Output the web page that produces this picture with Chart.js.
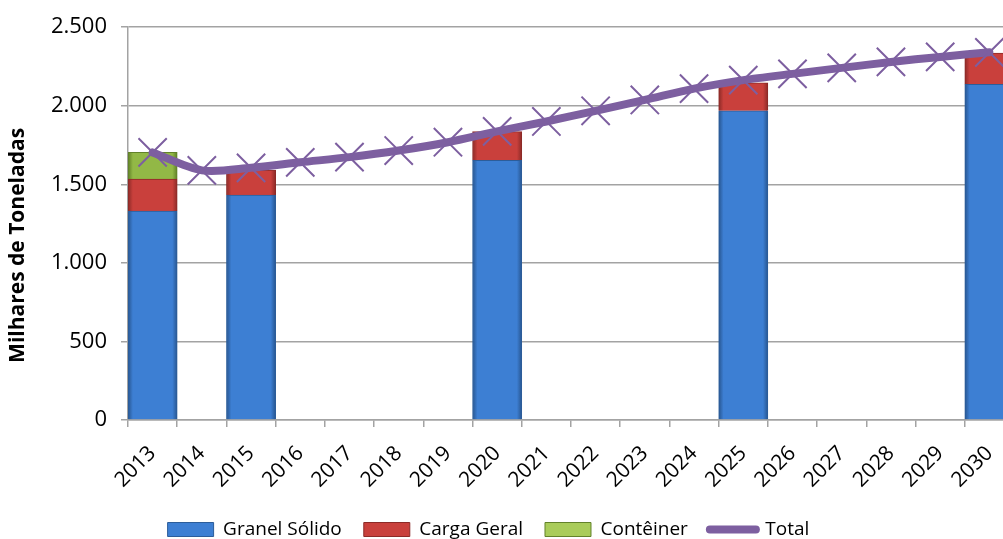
<!DOCTYPE html>
<html lang="pt-BR">
<head>
<meta charset="utf-8">
<title>Movimentação projetada</title>
<script src="https://cdn.jsdelivr.net/npm/chart.js@4.4.1/dist/chart.umd.min.js"></script>
<style>
    html, body { margin: 0; padding: 0; background: #fff; overflow: hidden; }
    #wrap { position: relative; width: 1036px; height: 539px; }
</style>
</head>
<body>
<div id="wrap"><canvas id="chart"></canvas></div>
<script>
// --- Data ---
const years = ['2013', '2014', '2015', '2016', '2017', '2018', '2019', '2020', '2021',
    '2022', '2023', '2024', '2025', '2026', '2027', '2028', '2029', '2030'];
const granelSolido = [1330, null, 1431, null, null, null, null, 1652, null,
    null, null, null, 1968, null, null, null, null, 2136];
const cargaGeral = [204, null, 160, null, null, null, null, 183, null,
    null, null, null, 178, null, null, null, null, 200];
const conteiner = [169, null, null, null, null, null, null, null, null,
    null, null, null, null, null, null, null, null, null];
const total = [1703, 1589, 1605, 1640, 1673, 1715, 1768, 1837, 1900,
    1968, 2037, 2109, 2163, 2203, 2241, 2279, 2311, 2340];
const yTicks = [0, 500, 1000, 1500, 2000, 2500];

const FONT = "'Open Sans', 'DejaVu Sans', sans-serif";
const PURPLE = '#7d5fa0';
const GRID = '#a3a3a3';
const PLOT_BOTTOM = 420;

// bar fill with darker side edges, a rough take on the excel bevel
function bevel(base, dark) {
    return function(ctx) {
        const chart = ctx.chart;
        const x = chart.scales && chart.scales.x;
        if (!x || ctx.type !== 'data') return base;
        const c = x.getPixelForValue(ctx.dataIndex);
        const half = (x.getPixelForValue(1) - x.getPixelForValue(0)) / 2;
        const g = chart.ctx.createLinearGradient(c - half, 0, c + half, 0);
        g.addColorStop(0, dark);
        g.addColorStop(0.1, base);
        g.addColorStop(0.9, base);
        g.addColorStop(1, dark);
        return g;
    };
}

function thousands(v) {
    return String(v).replace(/\B(?=(\d{3})+(?!\d))/g, '.');
}

// puts the legend row where excel had it (partly cut at the bottom edge)
const legendNudge = {
    id: 'legendNudge',
    afterLayout(chart) {
        const lg = chart.legend;
        if (!lg) return;
        const h = lg.bottom - lg.top;
        const dx = -29;
        lg.left += dx; lg.right += dx;
        lg.top = 498; lg.bottom = 498 + h;
    }
};

const ctx = document.getElementById('chart').getContext('2d');
new Chart(ctx, {
    type: 'bar',
    data: {
        labels: years,
        datasets: [
            {
                label: 'Granel Sólido', data: granelSolido, stack: 'carga', order: 1,
                backgroundColor: bevel('#3d7fd3', '#27558f'), borderColor: '#2c5d9a', borderWidth: 1,
                categoryPercentage: 1, barPercentage: 1
            },
            {
                label: 'Carga Geral', data: cargaGeral, stack: 'carga', order: 1,
                backgroundColor: bevel('#c9403c', '#8c2a27'), borderColor: '#8c2a27', borderWidth: 1,
                categoryPercentage: 1, barPercentage: 1
            },
            {
                label: 'Contêiner', data: conteiner, stack: 'carga', order: 1,
                backgroundColor: bevel('#92b846', '#5f7f26'), borderColor: '#62822a', borderWidth: 1,
                categoryPercentage: 1, barPercentage: 1
            },
            {
                type: 'line', label: 'Total', data: total, stack: 'total', order: 0,
                borderColor: PURPLE, backgroundColor: PURPLE, borderWidth: 8,
                tension: 0.3, borderCapStyle: 'round',
                pointStyle: 'crossRot', pointRadius: 20, pointHoverRadius: 20,
                pointBorderWidth: 2, pointBorderColor: PURPLE, pointBackgroundColor: PURPLE
            }
        ]
    },
    options: {
        responsive: true,
        maintainAspectRatio: false,
        animation: false,
        layout: { padding: { top: 24, right: 1, left: 0, bottom: 0 } },
        scales: {
            x: {
                stacked: true,
                offset: true,
                grid: { offset: true, drawOnChartArea: false, drawTicks: true, tickLength: 7, color: GRID, lineWidth: 1.5 },
                border: { display: true, color: GRID, width: 1.5 },
                ticks: {
                    color: '#000', font: { family: FONT, size: 21 },
                    minRotation: 45, maxRotation: 45, autoSkip: false, padding: 14
                },
                afterFit(scale) {
                    const lg = scale.chart.legend;
                    scale.height = scale.chart.height - PLOT_BOTTOM - (lg ? lg.height : 0);
                }
            },
            y: {
                stacked: true,
                min: 0, max: 2500,
                afterBuildTicks(scale) { scale.ticks = yTicks.map(v => ({ value: v })); },
                grid: { color: GRID, lineWidth: 1.5, tickLength: 7 },
                border: { display: true, color: GRID, width: 1.5 },
                ticks: {
                    color: '#000', font: { family: FONT, size: 22 }, padding: 14,
                    callback: v => thousands(v)
                },
                title: {
                    display: true,
                    // trailing spaces push the rotated text down, as in the original
                    text: 'Milhares de Toneladas\u00a0\u00a0\u00a0\u00a0\u00a0\u00a0\u00a0\u00a0',
                    color: '#000',
                    font: { family: FONT, size: 21, weight: 'bold' }, padding: { top: 5, bottom: 0 }
                },
                afterFit(scale) { scale.width = 128; }
            }
        },
        plugins: {
            tooltip: { enabled: false },
            legend: {
                position: 'bottom',
                labels: {
                    color: '#000', font: { family: FONT, size: 19 },
                    usePointStyle: true, pointStyleWidth: 46, boxHeight: 14, padding: 22,
                    generateLabels(chart) {
                        const items = [
                            { text: 'Granel Sólido', fillStyle: '#3d7fd3', strokeStyle: '#2c5d9a', lineWidth: 1, pointStyle: 'rect', datasetIndex: 0 },
                            { text: 'Carga Geral', fillStyle: '#c9403c', strokeStyle: '#8c2a27', lineWidth: 1, pointStyle: 'rect', datasetIndex: 1 },
                            { text: 'Contêiner', fillStyle: '#a9cc5a', strokeStyle: '#62822a', lineWidth: 1, pointStyle: 'rect', datasetIndex: 2 },
                            { text: 'Total', fillStyle: PURPLE, strokeStyle: PURPLE, lineWidth: 8, lineCap: 'round', pointStyle: 'line', datasetIndex: 3 }
                        ];
                        return items.map(it => Object.assign({ hidden: false, fontColor: '#000' }, it));
                    }
                }
            }
        }
    },
    plugins: [legendNudge]
});
</script>
</body>
</html>
